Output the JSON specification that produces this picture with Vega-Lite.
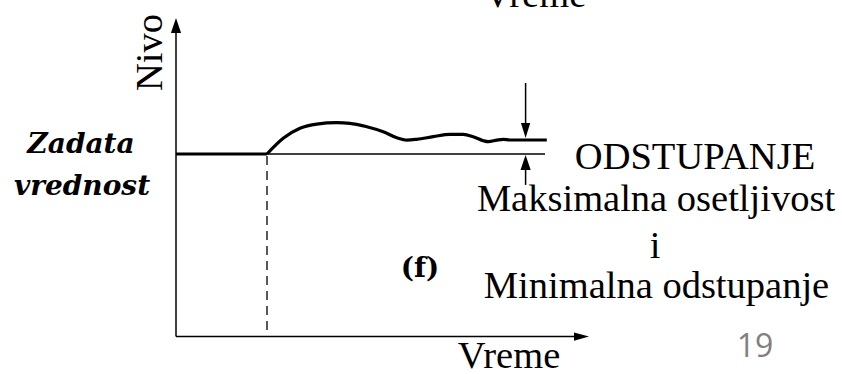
{
  "$schema": "https://vega.github.io/schema/vega-lite/v6.json",
  "width": 842,
  "height": 374,
  "padding": 0,
  "autosize": {"type": "none"},
  "background": "white",
  "config": {"view": {"stroke": null}, "axis": {"disable": true}},
  "encoding": {
    "x": {"type": "quantitative", "scale": {"domain": [-4.4, 16.65], "nice": false, "zero": false}, "axis": null},
    "y": {"type": "quantitative", "scale": {"domain": [-0.9375, 8.4125], "nice": false, "zero": false}, "axis": null}
  },
  "layer": [
    {
      "data": {"values": [
        {"t": 0, "L": 0, "t2": 0, "L2": 7.66},
        {"t": 0, "L": 0, "t2": 10.0, "L2": 0},
        {"t": 2.275, "L": 4.5625, "t2": 9.225, "L2": 4.5625},
        {"t": 8.74, "L": 6.3375, "t2": 8.74, "L2": 5.29},
        {"t": 8.74, "L": 4.21, "t2": 8.74, "L2": 3.79}
      ]},
      "mark": {"type": "rule", "color": "black", "strokeWidth": 1.5},
      "encoding": {"x": {"field": "t"}, "y": {"field": "L"}, "x2": {"field": "t2"}, "y2": {"field": "L2"}}
    },
    {
      "data": {"values": [{"t": 2.275, "L": 0.16, "t2": 2.275, "L2": 4.5625}]},
      "mark": {"type": "rule", "color": "black", "strokeWidth": 1.3, "strokeDash": [9, 6]},
      "encoding": {"x": {"field": "t"}, "y": {"field": "L"}, "x2": {"field": "t2"}, "y2": {"field": "L2"}}
    },
    {
      "data": {"values": [{"t": 0, "L": 4.5625, "t2": 2.275, "L2": 4.5625}]},
      "mark": {"type": "rule", "color": "black", "strokeWidth": 3.2},
      "encoding": {"x": {"field": "t"}, "y": {"field": "L"}, "x2": {"field": "t2"}, "y2": {"field": "L2"}}
    },
    {
      "data": {"values": [
        {"t": 2.275, "L": 4.5625},
        {"t": 2.68, "L": 4.955},
        {"t": 3.1, "L": 5.205},
        {"t": 3.52, "L": 5.31},
        {"t": 4.02, "L": 5.345},
        {"t": 4.35, "L": 5.33},
        {"t": 4.77, "L": 5.245},
        {"t": 5.18, "L": 5.12},
        {"t": 5.52, "L": 4.97},
        {"t": 5.77, "L": 4.91},
        {"t": 6.02, "L": 4.93},
        {"t": 6.43, "L": 4.995},
        {"t": 6.85, "L": 5.055},
        {"t": 7.18, "L": 5.055},
        {"t": 7.43, "L": 4.995},
        {"t": 7.68, "L": 4.895},
        {"t": 7.81, "L": 4.87},
        {"t": 8.02, "L": 4.91},
        {"t": 8.18, "L": 4.93},
        {"t": 8.35, "L": 4.9125},
        {"t": 9.27, "L": 4.9125}
      ]},
      "mark": {"type": "line", "color": "black", "strokeWidth": 3.2, "interpolate": "monotone"},
      "encoding": {"x": {"field": "t"}, "y": {"field": "L"}}
    },
    {
      "data": {"values": [{"t": 0, "L": 7.775}, {"t": 8.74, "L": 4.35}]},
      "mark": {"type": "point", "filled": true, "color": "black", "opacity": 1, "size": 225, "shape": "M0,-1L0.68,1L-0.68,1Z"},
      "encoding": {"x": {"field": "t"}, "y": {"field": "L"}}
    },
    {
      "data": {"values": [{"t": 8.74, "L": 5.15}]},
      "mark": {"type": "point", "filled": true, "color": "black", "opacity": 1, "size": 225, "shape": "M0,1L0.62,-1L-0.62,-1Z"},
      "encoding": {"x": {"field": "t"}, "y": {"field": "L"}}
    },
    {
      "data": {"values": [{"t": 10.1375, "L": 0}]},
      "mark": {"type": "point", "filled": true, "color": "black", "opacity": 1, "size": 225, "shape": "M1,0L-1,0.55L-1,-0.55Z"},
      "encoding": {"x": {"field": "t"}, "y": {"field": "L"}}
    },
    {
      "data": {"values": [
        {"t": 8.975, "L": 8.2375, "label": "Vreme"},
        {"t": 12.975, "L": 4.1875, "label": "ODSTUPANJE"},
        {"t": 12.0, "L": 3.145, "label": "Maksimalna osetljivost"},
        {"t": 11.975, "L": 1.9625, "label": "i"},
        {"t": 12.0125, "L": 0.975, "label": "Minimalna odstupanje"},
        {"t": 8.325, "L": -0.7875, "label": "Vreme"}
      ]},
      "mark": {"type": "text", "font": "Liberation Serif", "fontSize": 38.5, "align": "center", "baseline": "alphabetic", "color": "black"},
      "encoding": {"x": {"field": "t"}, "y": {"field": "L"}, "text": {"field": "label"}}
    },
    {
      "data": {"values": [{"t": -0.35, "L": 7.1, "label": "Nivo"}]},
      "mark": {"type": "text", "font": "Liberation Serif", "fontSize": 38.5, "align": "center", "baseline": "alphabetic", "angle": 270, "color": "black"},
      "encoding": {"x": {"field": "t"}, "y": {"field": "L"}, "text": {"field": "label"}}
    },
    {
      "data": {"values": [
        {"t": -2.375, "L": 4.5875, "label": "Zadata"},
        {"t": -2.35, "L": 3.5375, "label": "vrednost"}
      ]},
      "mark": {"type": "text", "font": "DejaVu Serif", "fontSize": 28, "fontWeight": "bold", "fontStyle": "italic", "align": "center", "baseline": "alphabetic", "color": "black"},
      "encoding": {"x": {"field": "t"}, "y": {"field": "L"}, "text": {"field": "label"}}
    },
    {
      "data": {"values": [{"t": 6.1, "L": 1.495, "label": "(f)"}]},
      "mark": {"type": "text", "font": "DejaVu Serif", "fontSize": 28, "fontWeight": "bold", "align": "center", "baseline": "alphabetic", "color": "black"},
      "encoding": {"x": {"field": "t"}, "y": {"field": "L"}, "text": {"field": "label"}}
    },
    {
      "data": {"values": [{"t": 14.475, "L": -0.5125, "label": "19"}]},
      "mark": {"type": "text", "font": "Open Sans", "fontSize": 32, "align": "center", "baseline": "alphabetic", "color": "#808080"},
      "encoding": {"x": {"field": "t"}, "y": {"field": "L"}, "text": {"field": "label"}}
    }
  ]
}
